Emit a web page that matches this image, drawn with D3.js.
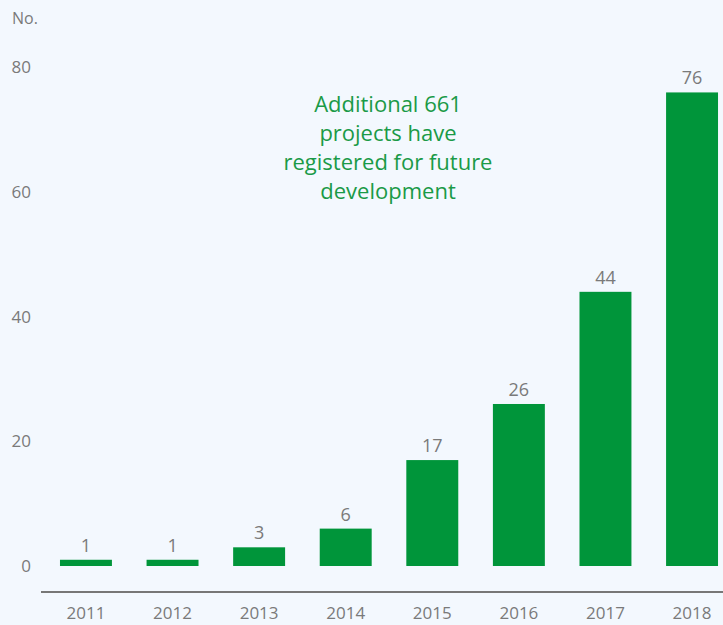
<!DOCTYPE html>
<html><head><meta charset="utf-8">
<script src="https://cdn.jsdelivr.net/npm/d3@7"></script>
<style>html,body{margin:0;padding:0;background:#f3f8fe;}svg{display:block;font-family:"Open Sans",sans-serif;}</style>
</head><body>
<script>
const years = ["2011","2012","2013","2014","2015","2016","2017","2018"];
const values = [1,1,3,6,17,26,44,76];
const yTicks = [0,20,40,60,80];
const unitLabel = "No.";
const noteLines = ["Additional 661","projects have","registered for future","development"];

const W=723,H=625;
const svg=d3.select("body").append("svg").attr("width",W).attr("height",H);
svg.append("rect").attr("width",W).attr("height",H).attr("fill","#f3f8fe");
const x=d3.scaleBand().domain(years).range([34,744]).paddingInner(0.4).paddingOuter(0.3);
const y=d3.scaleLinear().domain([0,80]).range([566,67.5]);
const grey="#7a7a7a";

svg.append("text").attr("x",12).attr("y",24).attr("fill",grey).attr("font-size",16).text(unitLabel);

svg.selectAll(".yt").data(yTicks).enter().append("text")
  .attr("x",31).attr("y",d=>y(d)).attr("dy","0.35em").attr("text-anchor","end")
  .attr("fill",grey).attr("font-size",17).text(d=>d);

svg.selectAll(".bar").data(values).enter().append("rect")
  .attr("x",(d,i)=>x(years[i])).attr("width",x.bandwidth())
  .attr("y",d=>y(d)).attr("height",d=>y(0)-y(d)).attr("fill","#00953a");

svg.selectAll(".vl").data(values).enter().append("text")
  .attr("x",(d,i)=>x(years[i])+x.bandwidth()/2).attr("y",d=>y(d)-8)
  .attr("text-anchor","middle").attr("fill",grey).attr("font-size",18).text(d=>d);

const xAxis=svg.append("g").attr("transform","translate(0,592)")
  .call(d3.axisBottom(x).tickSize(0).tickPadding(15));
xAxis.select(".domain").remove();
xAxis.append("line").attr("x1",41).attr("x2",723).attr("y1",0).attr("y2",0).attr("stroke","#777").attr("stroke-width",2);
xAxis.selectAll(".tick text").attr("fill",grey).attr("font-size",17).attr("font-family","\"Open Sans\",sans-serif");

svg.append("g").selectAll("text").data(noteLines).enter().append("text")
  .attr("x",388).attr("y",(d,i)=>104+i*29).attr("dy","0.35em").attr("text-anchor","middle")
  .attr("fill","#1a9a47").attr("font-size",22).text(d=>d);
</script>
</body></html>
